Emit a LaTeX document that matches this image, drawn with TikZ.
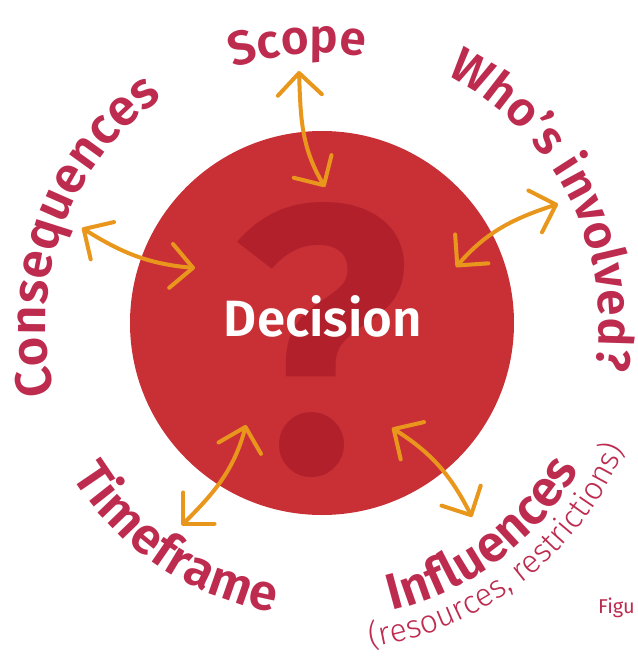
\documentclass[tikz,border=0pt]{standalone}
\usepackage{fontspec}
\setmainfont{Fira Sans}[BoldFont={Fira Sans SemiBold}]
\newfontfamily\lightfont{Fira Sans Light}
\usepackage{tikz}
\usetikzlibrary{arrows.meta,decorations.text}

\definecolor{discred}{HTML}{C93036}
\definecolor{markred}{HTML}{B2212B}
\definecolor{arroworange}{HTML}{E9961D}
\definecolor{labelred}{HTML}{BD2B4F}

\newcommand{\wordfont}{\color{labelred}\bfseries\fontsize{51}{51}\selectfont}
\newcommand{\topfont}{\color{labelred}\bfseries\fontsize{48}{48}\selectfont}
\newcommand{\notefont}{\color{labelred}\lightfont\fontsize{32}{32}\selectfont}

\begin{document}
\begin{tikzpicture}[x=1pt,y=1pt]
\tikzstyle{arr}=[arroworange,line width=4pt,line cap=round,
  >={Straight Barb[length=22pt,width=44pt,round]},<->]
\tikzstyle{word}=[decorate,decoration={text along path,text align=center}]
\useasboundingbox (-322,-334) rectangle (316,323);

% disc with the big question mark behind the word
\fill[discred] (0,0) circle[radius=192pt];
\node[markred,font=\bfseries\fontsize{380}{380}\selectfont,inner sep=0] (mark) at (-1,-17) {?};
\node[white,font=\bfseries\fontsize{51}{51}\selectfont,anchor=base,inner sep=0] (decision) at (1,-13) {Decision};

% words round the disc
\path[word,decoration={text={|\wordfont|Consequences}}]
  (200:276pt) arc[start angle=200,end angle=120,radius=276pt];
\path[word,decoration={text={|\topfont|Scope}}]
  (140:270pt) arc[start angle=140,end angle=50,radius=270pt];
\path[word,decoration={text={|\topfont|Who’s involved?}}]
  (81:277pt) arc[start angle=81,end angle=-27,radius=277pt];
\path[word,decoration={text={|\wordfont|Timeframe}}]
  (196:293pt) arc[start angle=196,end angle=276,radius=293pt];
\path[word,decoration={text={|\wordfont|Influences}}]
  (-93:296pt) arc[start angle=-93,end angle=-13,radius=296pt];
\path[word,decoration={text={|\notefont|(resources, restrictions)}}]
  (-102:328pt) arc[start angle=-102,end angle=-2,radius=328pt];

\node[labelred,font=\fontsize{20}{20}\selectfont,anchor=base west,inner sep=0] (caption) at (276,-290) {Figu};

% arrow ends
\coordinate (scope-out) at (-23,252);
\coordinate (scope-in) at (3,136);
\coordinate (cons-out) at (-240,95);
\coordinate (cons-in) at (-127,55);
\coordinate (who-in) at (134,56);
\coordinate (who-out) at (236,119);
\coordinate (time-out) at (-140,-202);
\coordinate (time-in) at (-76,-102);
\coordinate (infl-in) at (70,-105);
\coordinate (infl-out) at (150,-194);

\draw[arr] (scope-out) to[out=-88,in=121] (scope-in);
\draw[arr] (cons-out) to[out=-32,in=175] (cons-in);
\draw[arr] (who-in) to[out=49,in=198] (who-out);
\draw[arr] (time-out) to[out=45,in=255] (time-in);
\draw[arr] (infl-in) to[out=-32,in=117] (infl-out);
\end{tikzpicture}
\end{document}
